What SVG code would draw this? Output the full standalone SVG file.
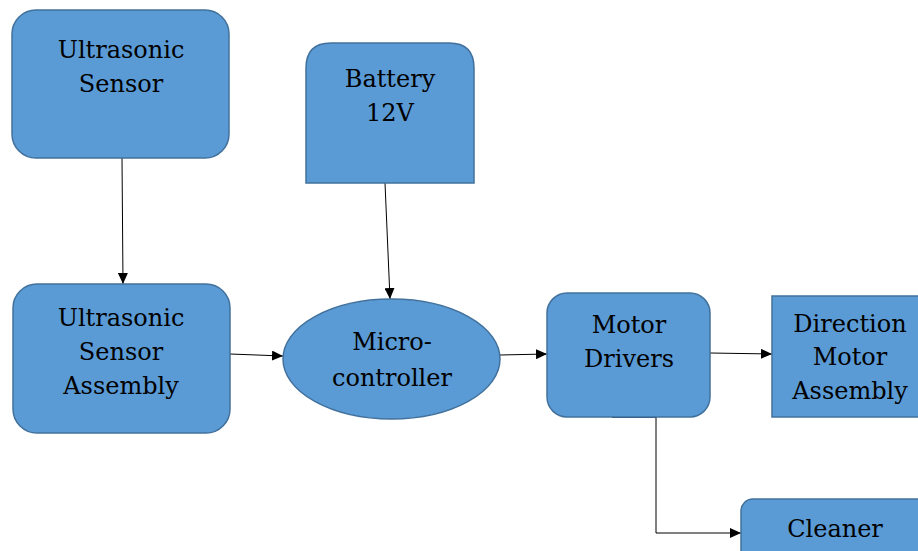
<svg xmlns="http://www.w3.org/2000/svg" width="918" height="551" viewBox="0 0 918 551">
<style>
.n{fill:#5b9bd5;stroke:#41719c;stroke-width:1.5}
.t{font-family:'DejaVu Serif',serif;font-size:24px;fill:#000;text-anchor:middle}
.c{fill:none;stroke:#000;stroke-width:1}
</style>
<defs>
<marker id="ah" markerUnits="userSpaceOnUse" markerWidth="12" markerHeight="10" refX="11" refY="5" orient="auto">
<path d="M0,0 L11,5 L0,10 Z" fill="#000"/>
</marker>
</defs>
<rect width="918" height="551" fill="#fff"/>
<g id="connectors">
<line class="c" x1="122" y1="158" x2="123" y2="284" marker-end="url(#ah)"/>
<line class="c" x1="385" y1="183" x2="390" y2="299" marker-end="url(#ah)"/>
<line class="c" x1="230" y1="354" x2="283" y2="356" marker-end="url(#ah)"/>
<line class="c" x1="500" y1="355" x2="547" y2="354" marker-end="url(#ah)"/>
<line class="c" x1="710" y1="353" x2="772" y2="354" marker-end="url(#ah)"/>
<line x1="612" y1="417" x2="656" y2="417" stroke="#1f3a55" stroke-width="2"/>
<polyline class="c" points="656,417 656,533 741,533" marker-end="url(#ah)"/>
</g>
<g id="ultrasonic-sensor">
<rect class="n" x="12" y="10" width="217" height="148" rx="24"/>
<text class="t" x="121" y="58">Ultrasonic</text>
<text class="t" x="121" y="92">Sensor</text>
</g>
<g id="battery">
<path class="n" d="M306,183 L306,68 Q306,43 331,43 L449,43 Q474,43 474,68 L474,183 Z"/>
<text class="t" x="390" y="87">Battery</text>
<text class="t" x="390" y="121">12V</text>
</g>
<g id="ultrasonic-assembly">
<rect class="n" x="13" y="284" width="217" height="149" rx="24"/>
<text class="t" x="121" y="326">Ultrasonic</text>
<text class="t" x="121" y="360">Sensor</text>
<text class="t" x="121" y="394">Assembly</text>
</g>
<g id="microcontroller">
<ellipse class="n" cx="391.5" cy="359" rx="108.5" ry="60"/>
<text class="t" x="392" y="350">Micro-</text>
<text class="t" x="392" y="386">controller</text>
</g>
<g id="motor-drivers">
<rect class="n" x="547" y="293" width="163" height="124" rx="20"/>
<text class="t" x="629" y="333">Motor</text>
<text class="t" x="629" y="367">Drivers</text>
</g>
<g id="direction-motor">
<rect class="n" x="772" y="296" width="160" height="121"/>
<text class="t" x="850" y="332">Direction</text>
<text class="t" x="850" y="365">Motor</text>
<text class="t" x="850" y="399">Assembly</text>
</g>
<g id="cleaner">
<rect class="n" x="741" y="499" width="200" height="70" rx="12"/>
<text class="t" x="835" y="537">Cleaner</text>
</g>
</svg>
